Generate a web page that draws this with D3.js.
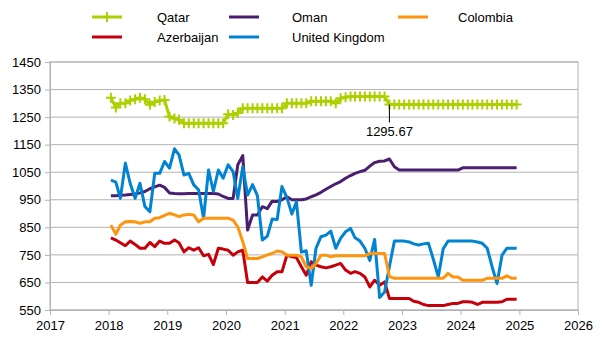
<!DOCTYPE html>
<html>
<head>
<meta charset="utf-8">
<script src="https://cdn.jsdelivr.net/npm/d3@7"></script>
<style>
  body { margin: 0; background: #fff; }
  svg text { font-family: "Liberation Sans", Arial, sans-serif; font-size: 13px; fill: #000; }
</style>
</head>
<body>
<svg id="chart" width="605" height="341"></svg>
<script>
// monthly values, Jan 2018 .. Dec 2024
const qatar = [
  1320,1285,1300,1300,1310,1315,1320,1315,1295,1305,1310,1312,
  1252,1245,1240,1228,1228,1228,1228,1228,1228,1228,1228,1228,
  1260,1258,1265,1282,1282,1282,1282,1282,1282,1282,1282,1282,
  1300,1300,1300,1300,1300,1308,1308,1308,1308,1308,1300,1318,
  1322,1325,1325,1325,1325,1325,1325,1325,1325,1295.67,1295.67,1295.67,
  1295.67,1295.67,1295.67,1295.67,1295.67,1295.67,1295.67,1295.67,1295.67,1295.67,1295.67,1295.67,
  1295.67,1295.67,1295.67,1295.67,1295.67,1295.67,1295.67,1295.67,1295.67,1295.67,1295.67,1295.67
];
const azerbaijan = [
  812,804,794,783,800,788,774,774,795,780,800,792,
  792,804,794,761,776,767,776,747,752,715,774,771,
  767,749,761,767,650,650,650,670,655,676,689,689,
  749,743,740,707,676,725,713,707,703,707,713,719,
  695,683,689,683,670,634,658,640,652,592,592,592,
  592,592,582,578,570,566,566,566,566,570,574,574,
  580,580,578,570,578,578,578,578,580,589,589,589
];
const oman = [
  965,965,966,967,969,971,975,980,990,997,1003,995,
  975,973,972,972,973,973,973,973,973,973,971,962,
  955,955,1077,1110,840,895,895,925,918,945,944,950,
  961,950,950,950,953,961,968,977,988,998,1008,1016,
  1028,1038,1046,1052,1057,1072,1085,1090,1091,1098,1070,1058,
  1058,1058,1058,1058,1058,1058,1058,1058,1058,1058,1058,1058,
  1066,1066,1066,1066,1066,1066,1066,1066,1066,1066,1066,1066
];
const unitedKingdom = [
  1021,1014,955,1083,1010,955,1010,925,907,1046,1046,1089,
  1065,1135,1113,1040,1046,1004,986,883,1058,980,1058,1028,
  1077,1052,955,1070,967,1005,965,804,818,880,878,998,
  958,898,943,760,765,640,774,816,822,836,774,810,
  834,846,812,800,774,730,806,595,615,708,800,800,
  800,797,790,786,790,792,735,670,772,800,800,800,
  800,800,800,797,792,774,707,646,749,774,774,774
];
const colombia = [
  858,825,858,870,871,870,865,870,870,883,885,893,
  901,895,889,895,897,895,870,883,883,883,883,883,
  883,876,852,798,737,737,737,743,750,755,764,761,
  749,749,749,743,707,701,719,749,749,743,747,747,
  747,747,747,747,747,755,755,755,755,672,665,665,
  665,665,665,665,665,665,665,665,665,683,670,670,
  658,658,658,658,658,665,665,665,665,674,665,665
];

const yearTicks = [2017,2018,2019,2020,2021,2022,2023,2024,2025,2026];
const valueTicks = [550,650,750,850,950,1050,1150,1250,1350,1450];
const annotated = { index: 57, label: '1295.67' };

// dates sit in the middle of each month
const months = d3.range(84).map(i => new Date(2018 + Math.floor(i / 12), i % 12, 15));

const series = [
  { name: 'Qatar', values: qatar, color: '#aecf00', marker: true },
  { name: 'Azerbaijan', values: azerbaijan, color: '#c5000b' },
  { name: 'Oman', values: oman, color: '#4b1f6f' },
  { name: 'United Kingdom', values: unitedKingdom, color: '#0084d1' },
  { name: 'Colombia', values: colombia, color: '#ff950e' }
];

const svg = d3.select('#chart');
const plot = { left: 50, right: 578, top: 62, bottom: 310 };

const x = d3.scaleTime()
  .domain([new Date(2017, 0, 1), new Date(2026, 0, 1)])
  .range([plot.left, plot.right]);
const y = d3.scaleLinear()
  .domain([550, 1450])
  .range([plot.bottom, plot.top]);

// grid
svg.append('g')
  .selectAll('line')
  .data(valueTicks)
  .enter()
  .append('line')
  .attr('x1', plot.left).attr('x2', plot.right)
  .attr('y1', d => y(d)).attr('y2', d => y(d))
  .attr('stroke', '#b3b3b3');

svg.append('rect')
  .attr('x', plot.left).attr('y', plot.top)
  .attr('width', plot.right - plot.left).attr('height', plot.bottom - plot.top)
  .attr('fill', 'none').attr('stroke', '#b3b3b3');

const xAxis = svg.append('g')
  .attr('transform', `translate(0,${plot.bottom})`)
  .call(d3.axisBottom(x)
    .tickValues(yearTicks.map(yr => new Date(yr, 0, 1)))
    .tickFormat(d3.timeFormat('%Y'))
    .tickSize(5).tickPadding(6));

const yAxis = svg.append('g')
  .attr('transform', `translate(${plot.left},0)`)
  .call(d3.axisLeft(y).tickValues(valueTicks).tickFormat(d3.format('d'))
    .tickSize(5).tickPadding(4));

[xAxis, yAxis].forEach(a => {
  a.select('.domain').attr('stroke', '#b3b3b3');
  a.selectAll('.tick line').attr('stroke', '#b3b3b3');
  a.selectAll('text').attr('font-family', null).attr('font-size', null).attr('fill', '#000');
});

const line = d3.line()
  .x((d, i) => x(months[i]))
  .y(d => y(d));

series.forEach(s => {
  svg.append('path')
    .datum(s.values)
    .attr('fill', 'none')
    .attr('stroke', s.color)
    .attr('stroke-width', 3)
    .attr('stroke-linejoin', 'round')
    .attr('d', line);

  if (s.marker) {
    svg.append('g')
      .selectAll('path')
      .data(s.values)
      .enter()
      .append('path')
      .attr('transform', (d, i) => `translate(${x(months[i])},${y(d)})`)
      .attr('d', 'M-5,0H5M0,-5V5')
      .attr('stroke', s.color)
      .attr('stroke-width', 2);
  }
});

// data label on Qatar
const ax = x(months[annotated.index]), ay = y(qatar[annotated.index]);
svg.append('line')
  .attr('x1', ax).attr('x2', ax)
  .attr('y1', ay).attr('y2', ay + 18)
  .attr('stroke', '#000');
svg.append('text')
  .attr('x', ax).attr('y', ay + 31)
  .attr('text-anchor', 'middle')
  .text(annotated.label);

// legend, two rows
const legendPos = [
  { sx: 92, tx: 157, y: 17 },
  { sx: 92, tx: 157, y: 37 },
  { sx: 229, tx: 292, y: 17 },
  { sx: 229, tx: 292, y: 37 },
  { sx: 398, tx: 458, y: 17 }
];
series.forEach((s, i) => {
  const p = legendPos[i];
  const g = svg.append('g');
  g.append('line')
    .attr('x1', p.sx).attr('x2', p.sx + 30)
    .attr('y1', p.y).attr('y2', p.y)
    .attr('stroke', s.color).attr('stroke-width', 3);
  if (s.marker) {
    g.append('path')
      .attr('d', `M${p.sx + 15},${p.y - 5}V${p.y + 5}`)
      .attr('stroke', s.color).attr('stroke-width', 2);
  }
  g.append('text')
    .attr('x', p.tx).attr('y', p.y + 5)
    .text(s.name);
});
</script>
</body>
</html>
